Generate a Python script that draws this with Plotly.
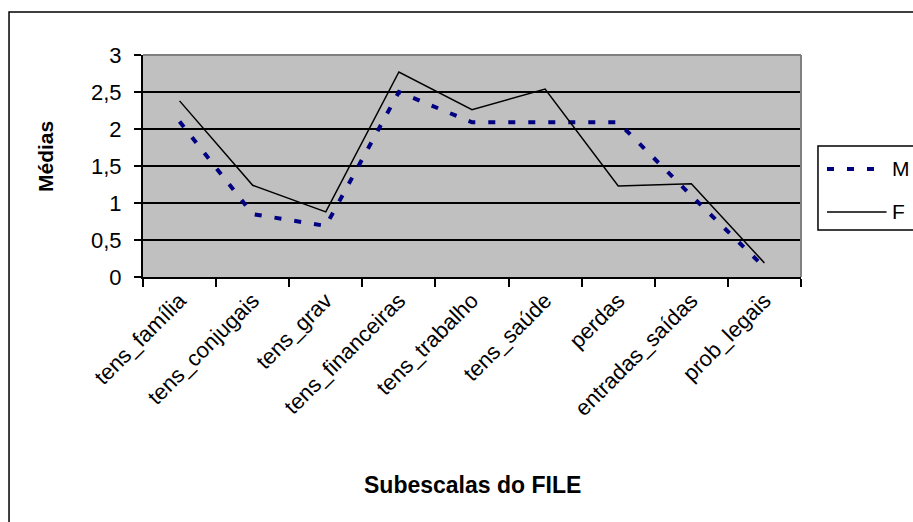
import plotly.graph_objects as go

categories = ["tens_família", "tens_conjugais", "tens_grav", "tens_financeiras",
              "tens_trabalho", "tens_saúde", "perdas", "entradas_saídas", "prob_legais"]
m_values = [2.10, 0.85, 0.69, 2.50, 2.09, 2.09, 2.09, 1.10, 0.13]
f_values = [2.38, 1.24, 0.88, 2.77, 2.26, 2.54, 1.23, 1.26, 0.19]
y_ticks = [0, 0.5, 1, 1.5, 2, 2.5, 3]
series_names = ["M", "F"]

FONT = "Liberation Sans, Arial, sans-serif"
m_line = dict(color="#000080", width=4, dash="7px,13px")
f_line = dict(color="black", width=1.5)

fig = go.Figure()
fig.add_trace(go.Scatter(x=categories, y=m_values, name=series_names[0],
                         mode="lines", line=m_line))
fig.add_trace(go.Scatter(x=categories, y=f_values, name=series_names[1],
                         mode="lines", line=f_line))

# manual legend (the original legend runs into the right edge)
leg_x0, leg_x1 = 1.0258, 1.3
leg_y0, leg_y1 = 0.2117, 0.590
item_y = [0.4865, 0.2928]
sample_x0, sample_x1 = 1.0395, 1.130
text_x = 1.1355

shapes = [
    # plot area top and right border (gray)
    dict(type="line", xref="paper", yref="paper", x0=0, x1=1, y0=1, y1=1,
         line=dict(color="#808080", width=2), layer="above"),
    dict(type="line", xref="paper", yref="paper", x0=1, x1=1, y0=0, y1=1,
         line=dict(color="#808080", width=2), layer="above"),
    # outer chart border (extends beyond visible area)
    dict(type="rect", xref="paper", yref="paper",
         x0=-0.2036, x1=1.5, y0=-1.5, y1=1.1937,
         line=dict(color="black", width=1.5), layer="above"),
    # legend box
    dict(type="rect", xref="paper", yref="paper",
         x0=leg_x0, x1=leg_x1, y0=leg_y0, y1=leg_y1,
         line=dict(color="black", width=1.5), fillcolor="white", layer="above"),
]
annotations = [
    dict(text="<b>Médias</b>", xref="paper", yref="paper",
         x=-0.149, y=0.545, textangle=-90, showarrow=False,
         font=dict(size=21, family=FONT), xanchor="center", yanchor="middle"),
    dict(text="<b>Subescalas do FILE</b>", xref="paper", yref="paper",
         x=0.5, y=-0.937, showarrow=False,
         font=dict(size=23, family=FONT), xanchor="center", yanchor="middle"),
]
for name, line, yy in zip(series_names, [m_line, f_line], item_y):
    shapes.append(dict(type="line", xref="paper", yref="paper",
                       x0=sample_x0, x1=sample_x1, y0=yy, y1=yy,
                       line=line, layer="above"))
    annotations.append(dict(text=name, xref="paper", yref="paper",
                            x=text_x, y=yy, showarrow=False,
                            xanchor="left", yanchor="middle",
                            font=dict(size=21, family=FONT)))

fig.update_layout(
    width=913, height=522,
    margin=dict(l=143, r=112, t=55, b=245, autoexpand=False),
    paper_bgcolor="white",
    plot_bgcolor="#C0C0C0",
    separators=", ",
    font=dict(family=FONT, color="black"),
    showlegend=False,
    xaxis=dict(
        type="category", tickson="boundaries", ticks="outside", ticklen=8,
        tickwidth=1.5, tickcolor="black", tickangle=-45,
        tickfont=dict(size=22, family=FONT),
        showline=True, linecolor="black", linewidth=2,
        showgrid=False, range=[-0.5, 8.5],
    ),
    yaxis=dict(
        range=[0, 3], tickvals=y_ticks, ticks="outside", ticklen=7,
        tickwidth=1.5, tickcolor="black", ticklabelstandoff=8,
        tickfont=dict(size=22, family=FONT),
        showline=True, linecolor="black", linewidth=2,
        showgrid=True, gridcolor="black", gridwidth=1.5, zeroline=False,
    ),
    annotations=annotations,
    shapes=shapes,
)

fig.write_html("out.html")
